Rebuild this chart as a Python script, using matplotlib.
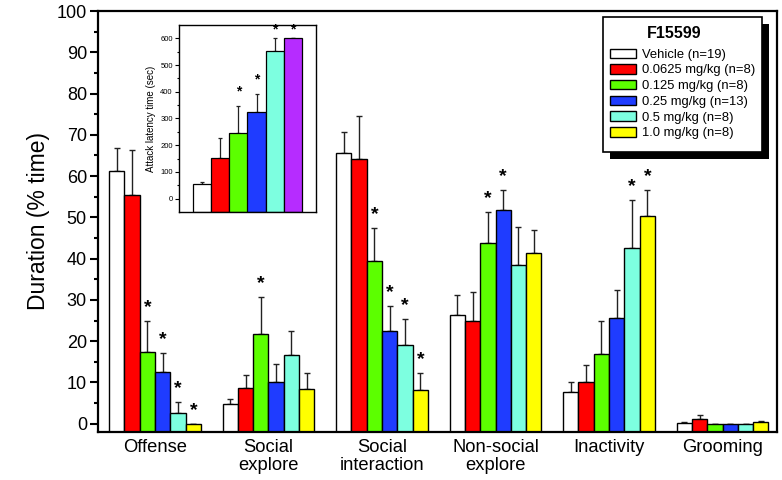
import matplotlib
matplotlib.use("Agg")
import matplotlib.pyplot as plt
from matplotlib.patches import Rectangle
import numpy as np

plt.rcParams['font.family'] = ['Liberation Sans', 'DejaVu Sans']

# ---------------- data ----------------
categories = ["Offense", "Social\nexplore", "Social\ninteraction",
              "Non-social\nexplore", "Inactivity", "Grooming"]
groups = ["Vehicle (n=19)", "0.0625 mg/kg (n=8)", "0.125 mg/kg (n=8)",
          "0.25 mg/kg (n=13)", "0.5 mg/kg (n=8)", "1.0 mg/kg (n=8)"]
legend_title = "F15599"
colors = ["#ffffff", "#ff0000", "#5cff00", "#1f3cff", "#7dffe0", "#ffff00"]

# mean values per group (rows) across categories (columns)
vehicle   = [61.2, 4.9, 65.5, 26.4, 7.8, 0.3]
dose_0625 = [55.4, 8.7, 64.1, 24.8, 10.0, 1.1]
dose_125  = [17.5, 21.8, 39.4, 43.7, 17.0, 0.0]
dose_25   = [12.5, 10.0, 22.5, 51.9, 25.6, 0.0]
dose_5    = [2.5, 16.6, 19.1, 38.5, 42.6, 0.0]
dose_10   = [0.0, 8.3, 8.25, 41.3, 50.3, 0.5]

err_vehicle   = [5.5, 1.1, 5.2, 4.7, 2.2, 0.2]
err_dose_0625 = [10.9, 3.0, 10.4, 7.2, 4.2, 0.9]
err_dose_125  = [7.5, 8.9, 8.0, 7.6, 7.8, 0.0]
err_dose_25   = [4.7, 4.5, 6.0, 4.7, 6.8, 0.0]
err_dose_5    = [2.7, 5.8, 6.3, 9.1, 11.6, 0.0]
err_dose_10   = [0.0, 4.1, 4.0, 5.7, 6.3, 0.2]

# significance flags
sig_vehicle   = [0, 0, 0, 0, 0, 0]
sig_dose_0625 = [0, 0, 0, 0, 0, 0]
sig_dose_125  = [1, 1, 1, 1, 0, 0]
sig_dose_25   = [1, 0, 1, 1, 0, 0]
sig_dose_5    = [1, 0, 1, 0, 1, 0]
sig_dose_10   = [1, 0, 1, 0, 1, 0]

values = [vehicle, dose_0625, dose_125, dose_25, dose_5, dose_10]
errors = [err_vehicle, err_dose_0625, err_dose_125, err_dose_25, err_dose_5, err_dose_10]
sigs = [sig_vehicle, sig_dose_0625, sig_dose_125, sig_dose_25, sig_dose_5, sig_dose_10]

# inset: attack latency
inset_colors = ["#ffffff", "#ff0000", "#5cff00", "#1f3cff", "#7dffe0", "#b62cff"]
latency = [54, 152, 247, 325, 552, 600]
latency_err = [7, 74, 100, 66, 49, 0]
latency_sig = [0, 0, 1, 1, 1, 1]

Y_MIN, Y_MAX = -2, 100
IN_MIN, IN_MAX = -50, 650

W, H = 782, 480

# ---------------- figure ----------------
fig = plt.figure(figsize=(W/100, H/100), dpi=100)
ax = fig.add_axes([98/W, (H-432)/H, (777-98)/W, (432-11)/H])

n = len(values)
width = 0.135
x = np.arange(len(categories))
handles = []
for i in range(n):
    pos = x + (i - (n - 1) / 2) * width
    vals = np.array(values[i])
    errs = np.array(errors[i])
    b = ax.bar(pos, vals - Y_MIN, bottom=Y_MIN, width=width, color=colors[i],
               edgecolor="black", linewidth=1.0, label=groups[i], zorder=2)
    handles.append(b)
    ax.errorbar(pos, vals, yerr=[np.zeros_like(errs), errs], fmt="none",
                ecolor="#222222", elinewidth=1.0, capsize=2, capthick=1.0, zorder=1)
    for p, v, e, s in zip(pos, vals, errs, sigs[i]):
        if s:
            ax.text(p, v + e + 3.2, "*", ha="center", va="center",
                    fontsize=14, fontweight="bold")

ax.set_xlim(-0.502, 5.48)
ax.set_ylim(Y_MIN, Y_MAX)
ax.set_yticks(np.arange(0, 101, 10))
ax.set_yticks(np.arange(0, 101, 5), minor=True)
ax.tick_params(axis="y", which="major", direction="out", length=6, width=1.5,
               labelsize=13, pad=2)
ax.tick_params(axis="y", which="minor", direction="out", length=3, width=1.5)
ax.set_xticks(x)
ax.set_xticklabels(categories, fontsize=13.2, linespacing=1.1)
ax.tick_params(axis="x", length=0, pad=5)
for sp in ax.spines.values():
    sp.set_linewidth(1.6)
ax.set_ylabel("Duration (% time)", fontsize=16.5, labelpad=5)

# ---------------- legend (framed box with solid black shadow) ----------------
bx0, by0, bx1, by1 = 603, 17, 762, 152   # box in pixels (top-left origin)
sh = Rectangle(((bx0 + 7) / W, (H - by1 - 7) / H), (bx1 - bx0) / W, (by1 - by0) / H,
               transform=fig.transFigure, facecolor="black", edgecolor="none", zorder=8)
fr = Rectangle((bx0 / W, (H - by1) / H), (bx1 - bx0) / W, (by1 - by0) / H,
               transform=fig.transFigure, facecolor="white", edgecolor="black",
               linewidth=1.2, zorder=9)
ax.add_artist(sh)
ax.add_artist(fr)
t = ax.text(674 / W, 1 - 34 / H, legend_title, transform=fig.transFigure,
            ha="center", va="center", fontsize=11.5, fontweight="bold", zorder=11)
leg = ax.legend(handles=handles, labels=groups, loc="upper left",
                bbox_to_anchor=(610 / W, 1 - 48.5 / H), bbox_transform=fig.transFigure,
                fontsize=9.4, frameon=False, handlelength=2.0, handleheight=0.72,
                handletextpad=0.42, labelspacing=0.27, borderpad=0, borderaxespad=0)
leg.set_zorder(10)

# ---------------- inset ----------------
ins = fig.add_axes([179/W, (H-212)/H, (316-179)/W, (212-25)/H])
xi = np.arange(len(latency))
ins.bar(xi, np.array(latency) - IN_MIN, bottom=IN_MIN, width=1.0,
        color=inset_colors, edgecolor="black", linewidth=0.9, zorder=2)
ins.errorbar(xi, latency, yerr=[np.zeros(len(latency)), latency_err], fmt="none",
             ecolor="#222222", elinewidth=0.9, capsize=1.5, capthick=0.9, zorder=1)
for p, v, e, s in zip(xi, latency, latency_err, latency_sig):
    if s:
        ins.text(p, min(v + e + 55, 632), "*", ha="center", va="center",
                 fontsize=10, fontweight="bold")
ins.set_xlim(-1.27, 6.27)
ins.set_ylim(IN_MIN, IN_MAX)
ins.set_yticks(np.arange(0, 601, 100))
ins.set_yticks(np.arange(0, 601, 50), minor=True)
ins.tick_params(axis="y", which="major", direction="out", length=3, width=0.8,
                labelsize=5.5, pad=1.5)
ins.tick_params(axis="y", which="minor", direction="out", length=1.5, width=0.8)
ins.set_xticks([])
for sp in ins.spines.values():
    sp.set_linewidth(1.0)
ins.set_ylabel("Attack latency time (sec)", fontsize=7, labelpad=3)

fig.savefig("out.png", dpi=100)
